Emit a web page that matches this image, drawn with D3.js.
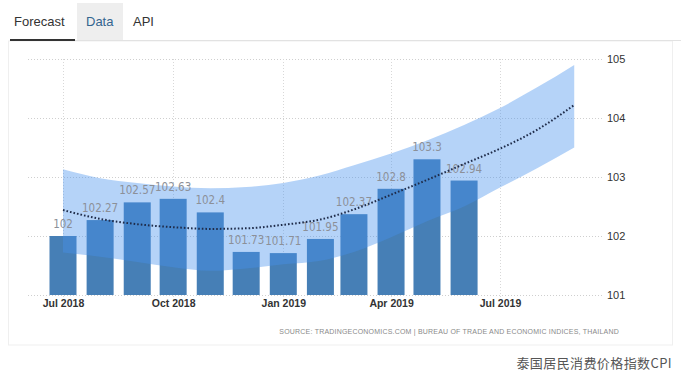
<!DOCTYPE html>
<html><head><meta charset="utf-8">
<script src="https://cdn.jsdelivr.net/npm/d3@7"></script>
<style>
html,body{margin:0;padding:0;background:#fff;}
svg{display:block;font-family:"Liberation Sans",Arial,sans-serif;}
</style></head>
<body>
<svg id="c" width="681" height="374"></svg>
<script>
// ---- data ----
const months = ["2018-07","2018-08","2018-09","2018-10","2018-11","2018-12","2019-01","2019-02","2019-03","2019-04","2019-05","2019-06"];
const cpiValues = [102, 102.27, 102.57, 102.63, 102.4, 101.73, 101.71, 101.95, 102.37, 102.8, 103.3, 102.94];
const forecastMonths = ["2018-07","2018-08","2018-09","2018-10","2018-11","2018-12","2019-01","2019-02","2019-03","2019-04","2019-05","2019-06","2019-07","2019-08","2019-09"];
const forecastMid   = [102.44,102.29,102.20,102.15,102.12,102.13,102.19,102.28,102.45,102.70,102.95,103.22,103.48,103.80,104.22];
const forecastUpper = [103.13,102.98,102.90,102.84,102.81,102.83,102.90,103.03,103.20,103.40,103.62,103.88,104.17,104.52,104.90];
const forecastLower = [101.72,101.65,101.56,101.47,101.41,101.45,101.52,101.58,101.73,101.98,102.25,102.50,102.82,103.15,103.50];
const yTicks = [101,102,103,104,105];
const xTickDates = ["2018-07","2018-10","2019-01","2019-04","2019-07"];
const xTickLabels = ["Jul 2018","Oct 2018","Jan 2019","Apr 2019","Jul 2019"];
const tabs = ["Forecast","Data","API"];
const sourceText = "SOURCE: TRADINGECONOMICS.COM | BUREAU OF TRADE AND ECONOMIC INDICES, THAILAND";
const caption = "泰国居民消费价格指数CPI";

const parse = d3.timeParse("%Y-%m");
const svg = d3.select("#c");

// ---- frame / tabs ----
svg.append("rect").attr("x",0).attr("y",0).attr("width",681).attr("height",374).attr("fill","#fff");
svg.append("rect").attr("x",8.5).attr("y",41).attr("width",664).attr("height",304)
  .attr("fill","#fff").attr("stroke","#efefef");
svg.append("line").attr("x1",10).attr("x2",681).attr("y1",40.5).attr("y2",40.5).attr("stroke","#e2e2e2");
svg.append("rect").attr("x",77).attr("y",3).attr("width",46).attr("height",37).attr("fill","#eeeeee");
svg.append("rect").attr("x",10).attr("y",39).attr("width",65).attr("height",2).attr("fill","#333");
const tabX = [14, 86, 133];
const tabColor = ["#333","#34658f","#333"];
svg.selectAll("text.tab").data(tabs).join("text").attr("class","tab")
  .attr("x",(d,i)=>tabX[i]).attr("y",26).attr("font-size",13).attr("fill",(d,i)=>tabColor[i]).text(d=>d);

// ---- scales ----
const x = d3.scaleTime().domain([parse("2018-07"), parse("2019-07")]).range([63, 500]);
const y = d3.scaleLinear().domain([101,105]).range([295,59]);

// ---- grid ----
const g = svg.append("g");
g.selectAll("line.hg").data(yTicks).join("line").attr("class","hg")
  .attr("x1",28).attr("x2",604).attr("y1",d=>Math.round(y(d))+0.5).attr("y2",d=>Math.round(y(d))+0.5)
  .attr("stroke","#cfcfcf").attr("stroke-dasharray","1,2");
g.selectAll("line.vg").data(xTickDates).join("line").attr("class","vg")
  .attr("x1",d=>Math.round(x(parse(d)))+0.5).attr("x2",d=>Math.round(x(parse(d)))+0.5)
  .attr("y1",59).attr("y2",300)
  .attr("stroke","#d8d8d8").attr("stroke-dasharray","1,2");

// ---- axes labels ----
const yAxis = d3.axisRight(y).tickValues(yTicks).tickSize(0).tickPadding(0).tickFormat(d3.format("d"));
const ya = svg.append("g").attr("transform","translate(607,0)").call(yAxis);
ya.select(".domain").remove();
ya.selectAll("text").attr("font-size",11).attr("fill","#333").attr("font-family","Liberation Sans, Arial, sans-serif");

const xAxis = d3.axisBottom(x).tickValues(xTickDates.map(parse)).tickSize(0).tickPadding(0)
  .tickFormat((d,i)=>xTickLabels[i]);
const xa = svg.append("g").attr("transform","translate(0,300)").call(xAxis);
xa.select(".domain").remove();
xa.selectAll("text").attr("font-size",10.5).attr("font-weight","bold").attr("fill","#333")
  .attr("font-family","Liberation Sans, Arial, sans-serif");

// ---- bars ----
const bw = 27;
svg.append("g").selectAll("rect").data(months).join("rect")
  .attr("x",(d)=>x(parse(d))-bw/2).attr("width",bw)
  .attr("y",(d,i)=>y(cpiValues[i])).attr("height",(d,i)=>y(101)-y(cpiValues[i]))
  .attr("fill","#467fb6");

// ---- forecast band ----
const fData = forecastMonths.map((m,i)=>({d:parse(m), mid:forecastMid[i], up:forecastUpper[i], lo:forecastLower[i]}));
const area = d3.area().x(d=>x(d.d)).y0(d=>y(d.lo)).y1(d=>y(d.up)).curve(d3.curveMonotoneX);
svg.append("path").datum(fData).attr("d",area).attr("fill","rgb(70,145,238)").attr("fill-opacity",0.4);

// ---- value labels ----
svg.append("g").selectAll("text").data(months).join("text")
  .attr("x",d=>x(parse(d))).attr("y",(d,i)=>y(cpiValues[i])-8)
  .attr("text-anchor","middle").attr("font-size",11.5).attr("fill","#8c9098")
  .attr("font-family","DejaVu Sans Condensed, Liberation Sans Narrow, sans-serif")
  .text((d,i)=>String(cpiValues[i]));

const line = d3.line().x(d=>x(d.d)).y(d=>y(d.mid)).curve(d3.curveMonotoneX);
svg.append("path").datum(fData).attr("d",line).attr("fill","none")
  .attr("stroke","#1f2c4a").attr("stroke-width",2).attr("stroke-dasharray","1.6,2");

// ---- source and caption ----
svg.append("text").attr("x",619).attr("y",334).attr("text-anchor","end")
  .attr("font-size",7).attr("letter-spacing",0.2).attr("fill","#8a8a8a").text(sourceText);
svg.append("text").attr("x",672).attr("y",368).attr("text-anchor","end")
  .attr("font-family","Noto Sans CJK SC, sans-serif")
  .attr("font-size",13).attr("letter-spacing",0.4).attr("fill","#555").text(caption);
</script>
</body></html>
